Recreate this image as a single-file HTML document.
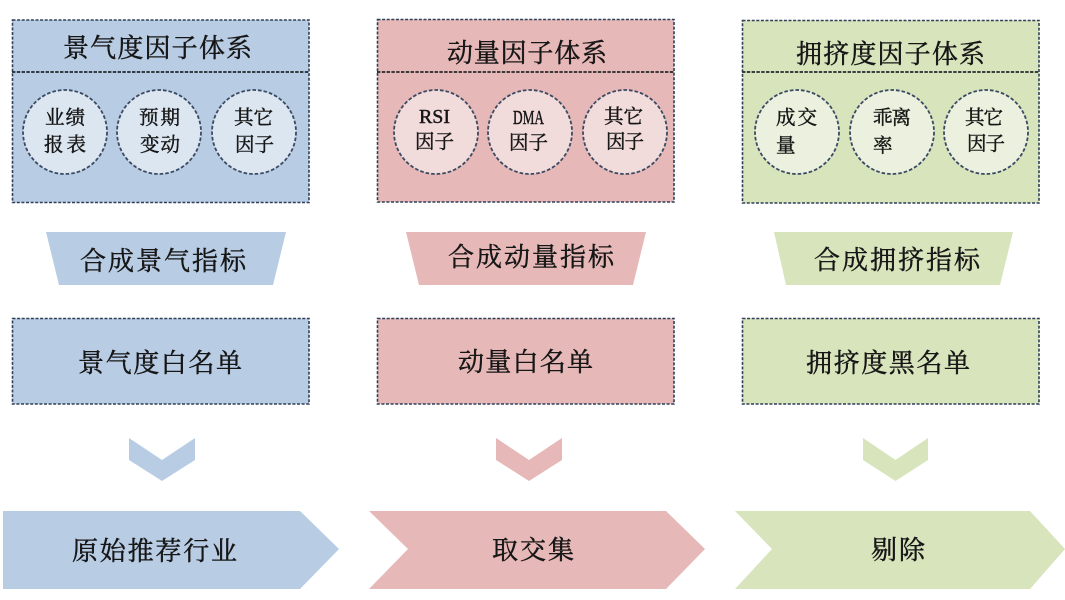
<!DOCTYPE html>
<html lang="zh">
<head>
<meta charset="utf-8">
<title>因子体系</title>
<style>
html,body{margin:0;padding:0;background:#fff;width:1065px;height:600px;overflow:hidden}
svg{display:block;filter:blur(.35px)}
text{font-family:"Liberation Serif","Noto Serif CJK SC",serif;fill:#161616;stroke:#161616;stroke-width:.45}
.t{font-size:26px}
.s{font-size:19.5px}
.d{stroke:#2f3f58;stroke-width:1.6;stroke-dasharray:3 1.6}
.h{stroke:#25282e;stroke-width:1.7;stroke-dasharray:3.4 1.4}
.c{stroke:#3b4a63;stroke-width:1.8;stroke-dasharray:3.6 2}
</style>
</head>
<body>
<svg width="1065" height="600" viewBox="0 0 1065 600" xmlns="http://www.w3.org/2000/svg">
<!-- Blue column -->
<g fill="#b8cce4">
<rect class="d" x="12.500" y="20" width="296.500" height="182.500"/>
<line class="h" x1="12" y1="72" x2="309" y2="72"/>
<polygon points="46,232 286,232 273,285 59,285"/>
<rect class="d" x="12.500" y="318.500" width="296.500" height="85.500"/>
<polygon points="129,438 162,460 195,438 195,460 162,481 129,460"/>
<polygon points="3,511 300,511 339,549 300,589 3,589"/>
</g>
<g fill="#dce6f1">
<circle class="c" cx="65" cy="132" r="42"/>
<circle class="c" cx="159" cy="132" r="42"/>
<circle class="c" cx="254" cy="132" r="42"/>
</g>
<text class="t" x="63" y="57" textLength="189" lengthAdjust="spacing">景气度因子体系</text>
<text class="t" x="80" y="270" textLength="166" lengthAdjust="spacing">合成景气指标</text>
<text class="t" x="78" y="372" textLength="164" lengthAdjust="spacing">景气度白名单</text>
<text class="t" x="72" y="560" textLength="165" lengthAdjust="spacing">原始推荐行业</text>
<text class="s" x="45" y="124" textLength="40" lengthAdjust="spacing">业绩</text>
<text class="s" x="44" y="151" textLength="42" lengthAdjust="spacing">报表</text>
<text class="s" x="139" y="124" textLength="41" lengthAdjust="spacing">预期</text>
<text class="s" x="140" y="151" textLength="40" lengthAdjust="spacing">变动</text>
<text class="s" x="234" y="124" textLength="39" lengthAdjust="spacing">其它</text>
<text class="s" x="235" y="151" textLength="39" lengthAdjust="spacing">因子</text>

<!-- Red column -->
<g fill="#e6b8b7">
<rect class="d" x="377.500" y="19.500" width="296.500" height="182.500"/>
<line class="h" x1="377" y1="72" x2="674" y2="72"/>
<polygon points="406,232 646,232 633,285 419,285"/>
<rect class="d" x="377.500" y="318.500" width="296.500" height="85.500"/>
<polygon points="496,438 529,460 562,438 562,460 529,481 496,460"/>
<polygon points="369,511 666,511 705,549 666,589 369,589 408,549"/>
</g>
<g fill="#f2dcdb">
<circle class="c" cx="436" cy="132" r="42"/>
<circle class="c" cx="530" cy="132" r="42"/>
<circle class="c" cx="625" cy="132" r="42"/>
</g>
<text class="t" x="447" y="62" textLength="160" lengthAdjust="spacing">动量因子体系</text>
<text class="t" x="448" y="266" textLength="166" lengthAdjust="spacing">合成动量指标</text>
<text class="t" x="458" y="371" textLength="135" lengthAdjust="spacing">动量白名单</text>
<text class="t" x="492" y="559" textLength="82" lengthAdjust="spacing">取交集</text>
<text class="s" x="419" y="123" textLength="31" lengthAdjust="spacingAndGlyphs">RSI</text>
<text class="s" x="415" y="148" textLength="39" lengthAdjust="spacing">因子</text>
<text class="s" x="513" y="124" textLength="31" lengthAdjust="spacingAndGlyphs">DMA</text>
<text class="s" x="509" y="149" textLength="39" lengthAdjust="spacing">因子</text>
<text class="s" x="604" y="123" textLength="39" lengthAdjust="spacing">其它</text>
<text class="s" x="606" y="148" textLength="38" lengthAdjust="spacing">因子</text>

<!-- Green column -->
<g fill="#d7e4bc">
<rect class="d" x="742.500" y="20.500" width="296.500" height="182.500"/>
<line class="h" x1="742" y1="72" x2="1039" y2="72"/>
<polygon points="774,232 1013,232 1000,285 786,285"/>
<rect class="d" x="742.500" y="318.500" width="296.500" height="85.500"/>
<polygon points="863,438 895.500,460 928,438 928,460 895.500,481 863,460"/>
<polygon points="735,511 1030,511 1065,549 1030,589 735,589 772,549"/>
</g>
<g fill="#ebf1de">
<circle class="c" cx="797" cy="132" r="42"/>
<circle class="c" cx="892" cy="132" r="42"/>
<circle class="c" cx="986" cy="132" r="42"/>
</g>
<text class="t" x="796" y="63" textLength="189" lengthAdjust="spacing">拥挤度因子体系</text>
<text class="t" x="814" y="269" textLength="166" lengthAdjust="spacing">合成拥挤指标</text>
<text class="t" x="806" y="372" textLength="164" lengthAdjust="spacing">拥挤度黑名单</text>
<text class="t" x="871" y="559" textLength="54" lengthAdjust="spacing">剔除</text>
<text class="s" x="776" y="124" textLength="41" lengthAdjust="spacing">成交</text>
<text class="s" x="776" y="152">量</text>
<text class="s" x="873" y="124" textLength="38" lengthAdjust="spacing">乖离</text>
<text class="s" x="873" y="152">率</text>
<text class="s" x="965" y="124" textLength="38" lengthAdjust="spacing">其它</text>
<text class="s" x="967" y="150" textLength="38" lengthAdjust="spacing">因子</text>
</svg>
</body>
</html>
